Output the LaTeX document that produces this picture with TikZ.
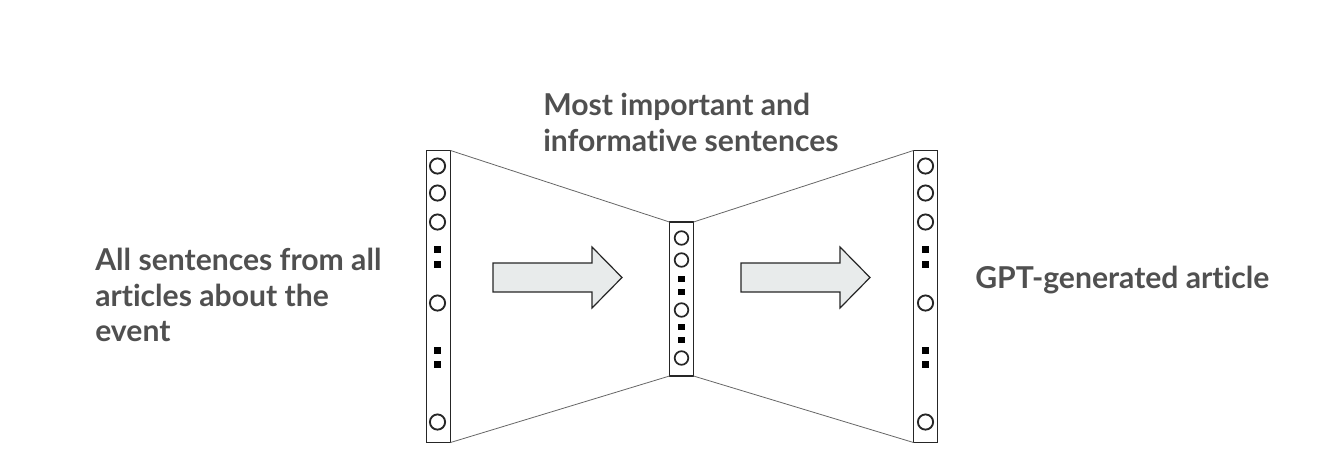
\documentclass[tikz,border=0pt]{standalone}
\usepackage{fontspec}
\setmainfont[Ligatures=NoCommon]{Lato}
\usetikzlibrary{positioning}
\definecolor{txtgray}{HTML}{505050}
\definecolor{arrowgray}{HTML}{E8EBEB}

\begin{document}
\begin{tikzpicture}[x=0.75pt,y=-0.75pt,
    bar/.style={draw=black!85,line width=1.3pt,fill=white,inner sep=0,outer sep=0,minimum width=18pt},
    link/.style={draw=black!60,line width=0.6pt},
    label/.style={text=txtgray,font=\fontsize{22.6}{26.6}\selectfont\bfseries,inner sep=0,align=left},
    bigarrow/.style={draw=black!85,line width=0.9pt,fill=arrowgray,line join=miter}]
    \useasboundingbox (0,0) rectangle (1340,462);
    % the three layers
    \node[bar,minimum height=219pt] (inbar) at (438.5,296.5) {};
    \node[bar,minimum height=115.5pt] (midbar) at (681.5,299) {};
    \node[bar,minimum height=219pt] (outbar) at (925.5,296.5) {};
    \draw[link] (inbar.north east) -- (midbar.north west);
    \draw[link] (inbar.south east) -- (midbar.south west);
    \draw[link] (midbar.north east) -- (outbar.north west);
    \draw[link] (midbar.south east) -- (outbar.south west);
    % units
    \foreach \x in {437.5,925.5}{
        \foreach \y in {166,193,222,303,422}
            \draw[line width=1.4pt,black!85] (\x,\y) circle[radius=5.7pt];
        \foreach \y in {249,264,350,364}
            \fill[black] (\x-3.5,\y-3.5) rectangle (\x+3.5,\y+3.5);
    }
    \foreach \y in {238,260,310,358}
        \draw[line width=1.3pt,black!85] (681.5,\y) circle[radius=5.1pt];
    \foreach \y in {279,292,327,340}
        \fill[black] (678.3,\y-3.2) rectangle (684.7,\y+3.2);
    % arrows
    \foreach \s in {0,248}
        \draw[bigarrow,xshift=\s*0.75pt] (493,263) -- (592,263) -- (592,247) -- (622,277.5)
            -- (592,308) -- (592,292) -- (493,292) -- cycle;
    % texts
    \node[label,anchor=north west] (intext) at (95,248) {All sentences from all\\articles about the\\event};
    \node[label,anchor=north west] (midtext) at (543,93) {Most important and\\informative sentences};
    \node[label,anchor=west] (outtext) at (975,280) {GPT-generated article};
\end{tikzpicture}
\end{document}
